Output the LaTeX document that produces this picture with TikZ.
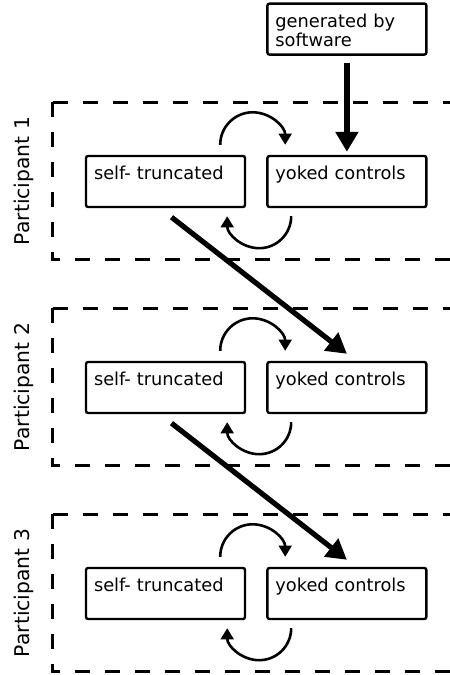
\documentclass[tikz,border=0pt]{standalone}
\usepackage{fontspec}
\setmainfont{DejaVu Sans}
\usetikzlibrary{positioning}
\usetikzlibrary{fit}
\usetikzlibrary{arrows.meta}

\begin{document}
\begin{tikzpicture}[
  condition/.style={draw, rectangle, rounded corners=1.5pt, line width=0.06cm,
    align=left, text width=3.575cm, inner sep=0.2cm,
    text height=0.4cm, text depth=0.475cm,
    font=\fontsize{12.66}{11.4}\selectfont},
  frame/.style={line width=0.07cm, dash pattern=on 0.375cm off 0.375cm},
  bigarr/.style={line width=0.13cm, -{Triangle[length=0.5cm,width=0.55cm]}},
  looparr/.style={line width=0.065cm, -{Triangle[length=0.28cm,width=0.32cm]}},
  partlabel/.style={rotate=90, font=\fontsize{14.44}{17}\selectfont},
]

\useasboundingbox (0,0) rectangle (11.25,16.875);

\foreach [evaluate={\y=12.3375-5.15*(\i-1)}] \i in {1,2,3} {
  \node (st\i) [condition] at (4.1375, \y) {self- truncated};
  \node (yk\i) [condition, right=0.5cm of st\i] {yoked controls};
  \node (fr\i) [inner sep=0pt, fit={(1.325,\y-1.95) (11.4,\y+1.975)}] {};
  \node (lab\i) [partlabel] at ([xshift=-0.725cm]fr\i.west) {Participant \i};

  \draw[frame] (fr\i.north west) -- (fr\i.north east);
  \draw[frame] (fr\i.north west) -- (fr\i.south west) -- (fr\i.south east);

  \draw[looparr]
    ([xshift=-0.65cm,yshift=0.25cm]st\i.north east) arc[start angle=180, end angle=0, radius=0.8125cm];
  \draw[looparr]
    ([xshift=0.625cm,yshift=-0.2cm]yk\i.south west) arc[start angle=0, end angle=-180, radius=0.8cm];
}

\node (gen) [condition, above=2.475cm of yk1] {generated by\\software};

\draw[bigarr, shorten <=0.175cm, shorten >=0.075cm] (gen) -- (yk1);

\foreach \i/\j in {1/2, 2/3} {
  \draw[bigarr]
    ([xshift=0.15cm,yshift=-0.225cm]st\i.south) -- ([yshift=0.175cm]yk\j.north);
}

\end{tikzpicture}
\end{document}
